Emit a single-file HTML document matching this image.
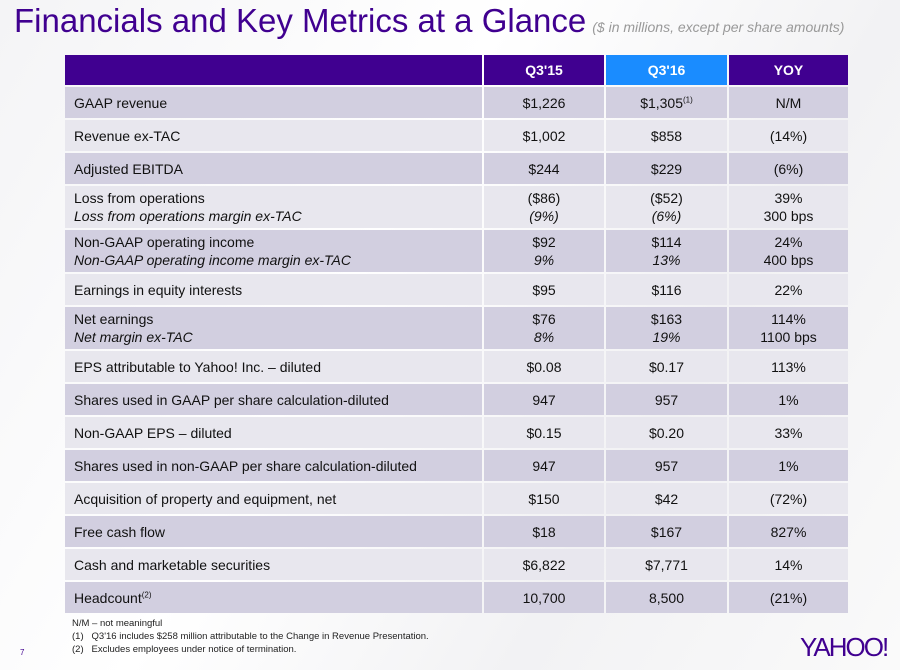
<!DOCTYPE html>
<html><head><meta charset="utf-8"><style>
body{margin:0;width:900px;height:670px;overflow:hidden;background:linear-gradient(120deg,#f4f4f6,#ffffff 40%,#f2f2f4 70%,#fafafa);font-family:"Liberation Sans",sans-serif;position:relative}
.t{position:absolute;left:14px;top:2px;font-size:33px;color:#400090;white-space:nowrap}
.t i{font-size:14px;color:#999;margin-left:6px}
.c{position:absolute;box-sizing:border-box;display:flex;align-items:center;font-size:14px;color:#111;line-height:18px;white-space:nowrap}
.l{padding-left:9px}
.n{justify-content:center;text-align:center}
.h{color:#fff;font-weight:bold;font-size:14px}
sup{font-size:8px;line-height:0}
.f{position:absolute;left:72px;font-size:9.5px;color:#222}
</style></head><body>
<div class="t">Financials and Key Metrics at a Glance<i>($ in millions, except per share amounts)</i></div>
<div id="tbl"></div>
<div class="f" style="top:618px">N/M – not meaningful</div>
<div class="f" style="top:631px">(1)&nbsp;&nbsp; Q3'16 includes $258 million attributable to the Change in Revenue Presentation.</div>
<div class="f" style="top:644px">(2)&nbsp;&nbsp; Excludes employees under notice of termination.</div>
<div style="position:absolute;left:20px;top:648px;font-size:8px;color:#400090">7</div>
<div style="position:absolute;left:800px;top:632px;font-size:26px;color:#400090;letter-spacing:-2px">YAHOO!</div>
<script>
const labels=[["GAAP revenue"],["Revenue ex-TAC"],["Adjusted EBITDA"],["Loss from operations","<i>Loss from operations margin ex-TAC</i>"],["Non-GAAP operating income","<i>Non-GAAP operating income margin ex-TAC</i>"],["Earnings in equity interests"],["Net earnings","<i>Net margin ex-TAC</i>"],["EPS attributable to Yahoo! Inc. – diluted"],["Shares used in GAAP per share calculation-diluted"],["Non-GAAP EPS – diluted"],["Shares used in non-GAAP per share calculation-diluted"],["Acquisition of property and equipment, net"],["Free cash flow"],["Cash and marketable securities"],["Headcount<sup>(2)</sup>"]];
const q315=[["$1,226"],["$1,002"],["$244"],["($86)","<i>(9%)</i>"],["$92","<i>9%</i>"],["$95"],["$76","<i>8%</i>"],["$0.08"],["947"],["$0.15"],["947"],["$150"],["$18"],["$6,822"],["10,700"]];
const q316=[["$1,305<sup>(1)</sup>"],["$858"],["$229"],["($52)","<i>(6%)</i>"],["$114","<i>13%</i>"],["$116"],["$163","<i>19%</i>"],["$0.17"],["957"],["$0.20"],["957"],["$42"],["$167"],["$7,771"],["8,500"]];
const yoy=[["N/M"],["(14%)"],["(6%)"],["39%","300 bps"],["24%","400 bps"],["22%"],["114%","1100 bps"],["113%"],["1%"],["33%"],["1%"],["(72%)"],["827%"],["14%"],["(21%)"]];
const cols=[[65,482],[484,604],[606,727],[729,848]];
const t=document.getElementById('tbl');
function cell(x,w,y,h,bg,html,cls,name){const d=document.createElement('div');d.className='c '+cls;d.style.cssText=`left:${x}px;top:${y}px;width:${w}px;height:${h}px;background:${bg}`;d.innerHTML='<span>'+html+'</span>';


t.appendChild(d);}
const hdr=["","Q3'15","Q3'16","YOY"];
cols.forEach((c,i)=>cell(c[0],c[1]-c[0],55,30,i==2?'#1a8cff':'#400090',hdr[i],'h n','header-'+i));
let y=87;
labels.forEach((lb,r)=>{const h=lb.length>1?42:31;const bg=r%2==0?'#d2cfe0':'#e8e7ee';
[lb,q315[r],q316[r],yoy[r]].forEach((v,i)=>{const c=cols[i];cell(c[0],c[1]-c[0],y,h,bg,v.join('<br>'),i==0?'l':'n',(i==0?'row-label-':'row-value-')+r+'-'+i);});
y+=h+2;});
</script>
</body></html>
